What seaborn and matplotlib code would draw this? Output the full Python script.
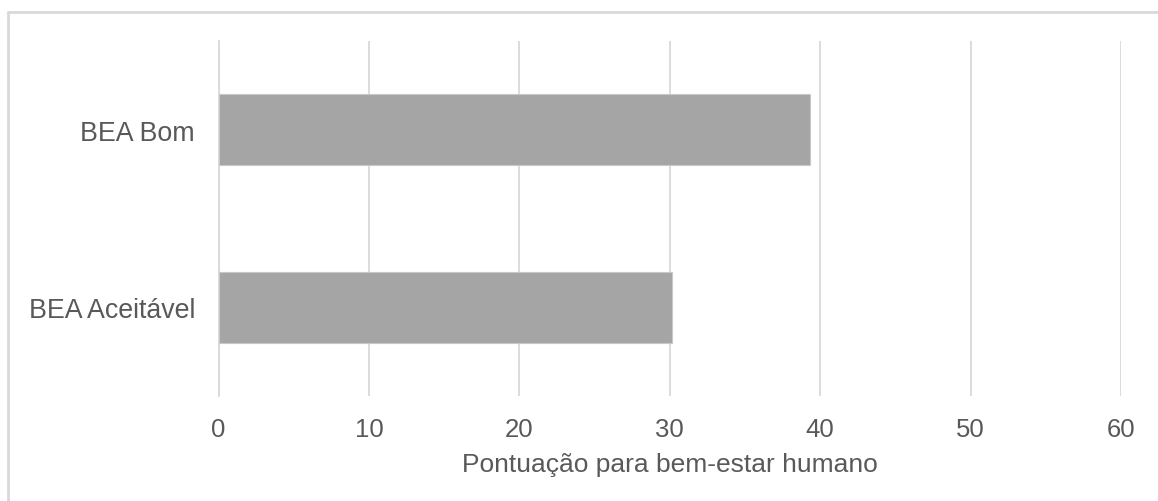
import matplotlib
matplotlib.use("Agg")
import matplotlib.pyplot as plt
from matplotlib.lines import Line2D
import seaborn as sns
import pandas as pd

categories = ["BEA Bom", "BEA Aceitável"]
scores = [39.3, 30.15]
x_ticks = [0, 10, 20, 30, 40, 50, 60]
x_label = "Pontuação para bem-estar humano"

sns.set_theme(style="white")
plt.rcParams["font.family"] = ["Liberation Sans", "DejaVu Sans"]

TEXT = "#595959"
BAR = "#A5A5A5"
GRID = "#D9D9D9"

W, H = 1158, 502
fig = plt.figure(figsize=(W / 100, H / 100), dpi=100)
ax = fig.add_axes([218.5 / W, 1 - 397 / H, (1121 - 218.5) / W, (397 - 42) / H])

df = pd.DataFrame({"categoria": categories, "pontuacao": scores})
sns.barplot(data=df, x="pontuacao", y="categoria", order=categories,
            color=BAR, saturation=1, width=0.4, edgecolor="#C8C8C8",
            linewidth=0.8, ax=ax, zorder=3)

ax.set_xlim(0, 60)
ax.set_ylim(1.5, -0.5)
ax.set_xticks(x_ticks)
ax.set_xticklabels([str(t) for t in x_ticks])
ax.xaxis.grid(True, color=GRID, linewidth=1.3)
ax.set_axisbelow(True)
ax.yaxis.grid(False)

for side in ["top", "right", "bottom"]:
    ax.spines[side].set_visible(False)
ax.spines["left"].set_color(GRID)
ax.spines["left"].set_linewidth(1.3)

ax.tick_params(axis="x", length=0, pad=15, labelsize=18.5, labelcolor=TEXT)
ax.tick_params(axis="y", length=0, pad=17, labelsize=19.3, labelcolor=TEXT)
ax.set_ylabel("")
ax.set_xlabel(x_label, fontsize=19, color=TEXT, labelpad=8)

# light frame around the chart area
fig.add_artist(Line2D([8 / W, 8 / W], [0, 1 - 13 / H], transform=fig.transFigure,
                      color=GRID, linewidth=2))
fig.add_artist(Line2D([8 / W, 1], [1 - 13 / H, 1 - 13 / H], transform=fig.transFigure,
                      color=GRID, linewidth=2))

fig.savefig("out.png", dpi=100, facecolor="white")
